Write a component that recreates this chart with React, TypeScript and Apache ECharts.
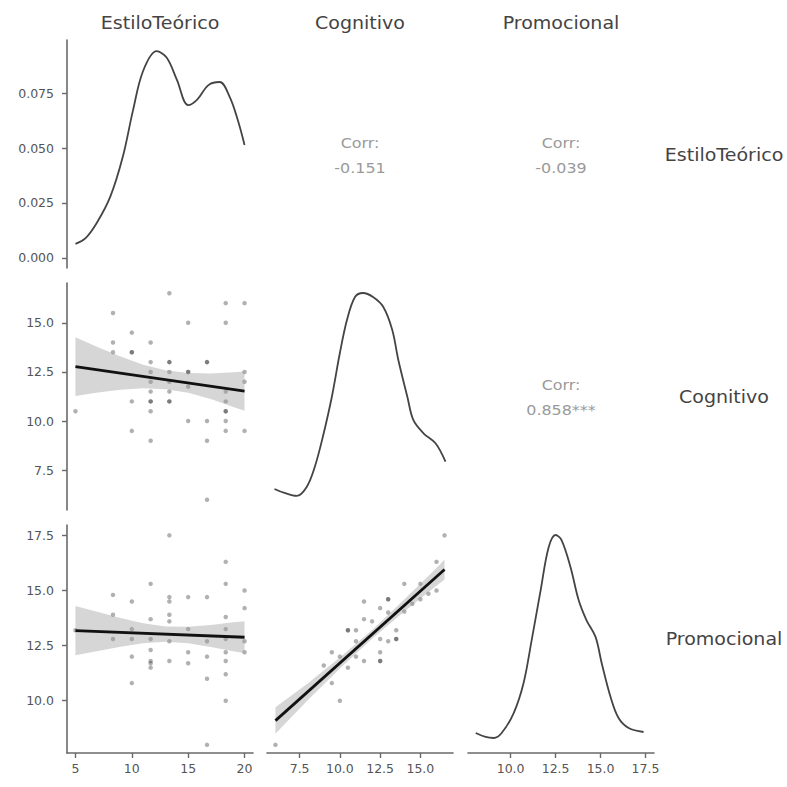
import React, { useEffect, useRef } from "react";
import * as echarts from "echarts";

// ---------- variables / labels ----------
const varNames = ["EstiloTeórico", "Cognitivo", "Promocional"];
const corrHeader = "Corr:";
const corrEstCog = "-0.151";
const corrEstProm = "-0.039";
const corrCogProm = "0.858***";

// ---------- axis ranges & ticks ----------
const estiloRange = [4.25, 20.75];
const cognitivoRange = [5.475, 17.025];
const promocionalRange = [7.63, 17.97];
const densEstiloRange = [-0.00455, 0.0991];
const densCogRange = [-0.0087, 0.1887];
const densPromRange = [-0.0096, 0.2096];

const estiloTicks = [5, 10, 15, 20];
const cognitivoTicks = [7.5, 10, 12.5, 15];
const promocionalTicks = [10, 12.5, 15, 17.5];
const densityTicks = [0, 0.025, 0.05, 0.075];

// ---------- diagonal densities ----------
const estiloDensX = [5, 5.9, 6.9, 8.1, 9.2, 10.1, 11.0, 12.2, 13.1, 14.0, 15.0, 15.8, 16.8, 17.8, 18.7, 19.4, 20.0];
const estiloDensY = [0.0064, 0.009, 0.016, 0.028, 0.046, 0.067, 0.085, 0.094, 0.091, 0.081, 0.0695, 0.072, 0.0786, 0.08, 0.073, 0.0627, 0.0514];

const cogDensX = [5.94, 6.56, 7.31, 7.94, 8.44, 8.94, 9.5, 10.0, 10.44, 10.94, 11.44, 12.06, 12.69, 13.25, 13.63, 14.19, 14.56, 15.19, 15.94, 16.56];
const cogDensY = [0.0096, 0.0061, 0.0035, 0.0113, 0.0287, 0.0548, 0.0896, 0.1278, 0.1565, 0.1765, 0.18, 0.1765, 0.168, 0.148, 0.1217, 0.0898, 0.0696, 0.058, 0.0493, 0.0333];

const promDensX = [8.06, 8.61, 9.06, 9.5, 10.17, 10.72, 11.17, 11.67, 12.11, 12.5, 12.83, 13.33, 13.78, 14.22, 14.72, 15.06, 15.56, 16.0, 16.56, 17.39];
const promDensY = [0.0096, 0.0058, 0.0048, 0.0096, 0.0288, 0.0577, 0.099, 0.147, 0.188, 0.2, 0.195, 0.169, 0.1375, 0.118, 0.102, 0.077, 0.044, 0.024, 0.0144, 0.0106];

// ---------- scatter points ----------
const estiloVsCog = [
  [5, 10.5], [8.33, 15.5], [8.33, 14], [8.33, 13.5], [10, 14.5], [10, 13.5], [10, 13.5], [10, 11], [10, 9.5],
  [11.67, 14], [11.67, 13], [11.67, 12.5], [11.67, 12], [11.67, 11.5], [11.67, 11], [11.67, 11], [11.67, 10.5], [11.67, 9],
  [13.33, 16.5], [13.33, 13], [13.33, 13], [13.33, 12.5], [13.33, 12], [13.33, 11.5], [13.33, 11], [13.33, 11],
  [15, 15], [15, 12.5], [15, 12.5], [15, 11.75], [15, 10],
  [16.67, 13], [16.67, 13], [16.67, 10], [16.67, 9], [16.67, 6],
  [18.33, 16], [18.33, 15], [18.33, 11.5], [18.33, 11], [18.33, 10.5], [18.33, 10.5], [18.33, 10], [18.33, 9.5],
  [20, 16], [20, 12.5], [20, 12], [20, 9.5],
];

const estiloVsProm = [
  [5, 13.2], [8.33, 14.8], [8.33, 13.9], [8.33, 12.8],
  [10, 14.5], [10, 13.25], [10, 12.8], [10, 12.0], [10, 10.8],
  [11.67, 15.3], [11.67, 13.7], [11.67, 12.8], [11.67, 12.3], [11.67, 11.8], [11.67, 11.7], [11.67, 11.5],
  [13.33, 17.5], [13.33, 14.7], [13.33, 14.5], [13.33, 13.9], [13.33, 13.6], [13.33, 12.7], [13.33, 11.8],
  [15, 14.7], [15, 13.25], [15, 12.2], [15, 11.7],
  [16.67, 14.7], [16.67, 12.7], [16.67, 12.0], [16.67, 11.0], [16.67, 8.0],
  [18.33, 16.3], [18.33, 15.3], [18.33, 13.8], [18.33, 13.25], [18.33, 12.8], [18.33, 12.2], [18.33, 11.8], [18.33, 11.2], [18.33, 10.0],
  [20, 15.0], [20, 14.2], [20, 12.7], [20, 12.2],
];

const cogVsProm = [
  [6, 8.0], [16.5, 17.5], [16, 16.3], [16, 15.0], [15.5, 14.85], [15, 15.3], [14, 15.3], [14, 14.05],
  [13.5, 13.2], [13.5, 12.8], [13.5, 12.8], [13, 14.6], [13, 14.6], [13, 14.0], [13, 12.7], [12.5, 14.2], [12.5, 12.8],
  [12.5, 12.2], [12.5, 11.8], [12.5, 11.8], [12, 13.6], [11.5, 14.5], [11.5, 13.7], [11.5, 11.8], [11, 13.2],
  [11, 12.7], [11, 12.0], [10.5, 13.2], [10.5, 13.2], [10.5, 11.5], [10, 12.0], [10, 10.0], [9.5, 12.2],
  [9.5, 10.8], [9, 11.6], [14.5, 14.4], [15, 14.6],
];

// ---------- fitted lines & confidence bands ----------
const fitEstCogX = [5, 20];
const fitEstCogY = [12.77, 11.52];
const bandEstCogX = [5, 7, 9, 11, 13, 15, 17, 19, 20];
const bandEstCogLo = [11.27, 11.45, 11.59, 11.67, 11.62, 11.44, 11.12, 10.72, 10.52];
const bandEstCogHi = [14.27, 13.75, 13.29, 12.87, 12.58, 12.44, 12.42, 12.48, 12.52];

const fitEstPromX = [5, 20];
const fitEstPromY = [13.18, 12.88];
const bandEstPromX = [5, 7, 9, 11, 13, 15, 17, 19, 20];
const bandEstPromLo = [12.06, 12.26, 12.45, 12.61, 12.67, 12.61, 12.44, 12.24, 12.15];
const bandEstPromHi = [14.3, 14.02, 13.75, 13.51, 13.37, 13.35, 13.44, 13.56, 13.61];

const fitCogPromX = [6, 16.5];
const fitCogPromY = [9.1, 15.95];
const bandCogPromX = [6, 8, 10, 12, 14, 16, 16.5];
const bandCogPromLo = [8.5, 10.02, 11.46, 12.81, 14.05, 15.22, 15.5];
const bandCogPromHi = [9.7, 10.78, 11.96, 13.21, 14.59, 16.02, 16.4];

// ---------- layout ----------
const colLeft = [67, 267, 468];
const colWidth = 186;
const rowTop = [40, 283, 525];
const rowHeight = [228, 227, 228];

const FONT = "'DejaVu Sans', 'Liberation Sans', Arial, sans-serif";
const AXIS_COLOR = "#6a6a6a";
const LABEL_COLOR = "#555";

function zip(xs: number[], ys: number[]) {
  return xs.map((x, i) => [x, ys[i]]);
}

function makeAxis(
  gridIndex: number,
  range: number[],
  show: boolean,
  ticks: number[] | null,
  fmt: (v: number) => string,
  isX: boolean
) {
  return {
    type: "value",
    gridIndex,
    min: range[0],
    max: range[1],
    show,
    position: isX ? "bottom" : "left",
    splitLine: { show: false },
    axisLine: { show, onZero: false, lineStyle: { color: AXIS_COLOR, width: 1.6 } },
    axisTick: {
      show: show && !!ticks,
      length: 5,
      customValues: ticks || [],
      lineStyle: { color: AXIS_COLOR, width: 1.4 },
    },
    axisLabel: {
      show: show && !!ticks,
      customValues: ticks || [],
      formatter: (v: number) => fmt(v),
      color: LABEL_COLOR,
      fontSize: 12.5,
      fontFamily: FONT,
      margin: isX ? 9 : 13,
    },
  };
}

function bandSeries(xi: number, yi: number, xs: number[], lo: number[], hi: number[]) {
  return {
    type: "custom",
    xAxisIndex: xi,
    yAxisIndex: yi,
    data: xs.map((x, i) => [x, lo[i], hi[i]]),
    encode: { x: 0, y: [1, 2] },
    silent: true,
    z: 3,
    renderItem: (params: any, api: any) => {
      if (params.dataIndex !== 0) return null;
      const upper = xs.map((x, i) => api.coord([x, hi[i]]));
      const lower = xs.map((x, i) => api.coord([x, lo[i]])).reverse();
      return {
        type: "polygon",
        shape: { points: upper.concat(lower) },
        style: { fill: "rgba(153,153,153,0.4)", stroke: "none" },
      };
    },
  };
}

function scatterSeries(xi: number, yi: number, pts: number[][]) {
  return {
    type: "scatter",
    xAxisIndex: xi,
    yAxisIndex: yi,
    data: pts,
    symbolSize: 4.5,
    itemStyle: { color: "rgba(0,0,0,0.38)" },
    silent: true,
    z: 2,
  };
}

function fitSeries(xi: number, yi: number, xs: number[], ys: number[]) {
  return {
    type: "line",
    xAxisIndex: xi,
    yAxisIndex: yi,
    data: zip(xs, ys),
    symbol: "none",
    lineStyle: { color: "#111", width: 2.8 },
    silent: true,
    z: 4,
  };
}

function densitySeries(xi: number, yi: number, xs: number[], ys: number[]) {
  return {
    type: "line",
    xAxisIndex: xi,
    yAxisIndex: yi,
    data: zip(xs, ys),
    symbol: "none",
    smooth: 0.35,
    lineStyle: { color: "#444", width: 1.8 },
    silent: true,
    z: 4,
  };
}

const f0 = (v: number) => String(Math.round(v));
const f1 = (v: number) => v.toFixed(1);
const f3 = (v: number) => v.toFixed(3);

export default function App() {
  const ref = useRef<HTMLDivElement>(null);

  useEffect(() => {
    if (!ref.current) return;
    const chart = echarts.init(ref.current, undefined, { renderer: "svg" });

    const panels = [
      [0, 0],
      [1, 0],
      [1, 1],
      [2, 0],
      [2, 1],
      [2, 2],
    ];
    const grid = panels.map(([r, c]) => ({
      left: colLeft[c],
      top: rowTop[r],
      width: colWidth,
      height: rowHeight[r],
      containLabel: false,
    }));

    const xAxis = [
      makeAxis(0, estiloRange, false, null, f0, true),
      makeAxis(1, estiloRange, false, null, f0, true),
      makeAxis(2, cognitivoRange, false, null, f1, true),
      makeAxis(3, estiloRange, true, estiloTicks, f0, true),
      makeAxis(4, cognitivoRange, true, cognitivoTicks, f1, true),
      makeAxis(5, promocionalRange, true, promocionalTicks, f1, true),
    ];
    const yAxis = [
      makeAxis(0, densEstiloRange, true, densityTicks, f3, false),
      makeAxis(1, cognitivoRange, true, cognitivoTicks, f1, false),
      makeAxis(2, densCogRange, false, null, f3, false),
      makeAxis(3, promocionalRange, true, promocionalTicks, f1, false),
      makeAxis(4, promocionalRange, false, null, f1, false),
      makeAxis(5, densPromRange, false, null, f3, false),
    ];

    const series: any[] = [
      densitySeries(0, 0, estiloDensX, estiloDensY),
      scatterSeries(1, 1, estiloVsCog),
      bandSeries(1, 1, bandEstCogX, bandEstCogLo, bandEstCogHi),
      fitSeries(1, 1, fitEstCogX, fitEstCogY),
      densitySeries(2, 2, cogDensX, cogDensY),
      scatterSeries(3, 3, estiloVsProm),
      bandSeries(3, 3, bandEstPromX, bandEstPromLo, bandEstPromHi),
      fitSeries(3, 3, fitEstPromX, fitEstPromY),
      scatterSeries(4, 4, cogVsProm),
      bandSeries(4, 4, bandCogPromX, bandCogPromLo, bandCogPromHi),
      fitSeries(4, 4, fitCogPromX, fitCogPromY),
      densitySeries(5, 5, promDensX, promDensY),
    ];

    const txt = (text: string, x: number, y: number, size: number, color: string, sx: number) => ({
      type: "text",
      x,
      y,
      scaleX: sx,
      silent: true,
      style: {
        text,
        fill: color,
        font: `${size}px ${FONT}`,
        fontSize: size,
        fontFamily: FONT,
        textAlign: "center",
        textVerticalAlign: "middle",
        align: "center",
        verticalAlign: "middle",
      },
    });

    const colCenter = colLeft.map((l) => l + colWidth / 2);
    const rowCenter = rowTop.map((t, i) => t + rowHeight[i] / 2);
    const stripColor = "#444";
    const corrColor = "#9a9a9a";
    const SX = 1.12;
    const CX = 1.18;

    const graphic: any[] = [
      ...varNames.map((n, i) => txt(n, colCenter[i], 23, 17, stripColor, SX)),
      ...varNames.map((n, i) => txt(n, 724, rowCenter[i] + (i === 0 ? 1 : 0), 17, stripColor, SX)),
      txt(corrHeader, colCenter[1], 143, 13.5, corrColor, CX),
      txt(corrEstCog, colCenter[1], 168, 13.5, corrColor, CX),
      txt(corrHeader, colCenter[2], 143, 13.5, corrColor, CX),
      txt(corrEstProm, colCenter[2], 168, 13.5, corrColor, CX),
      txt(corrHeader, colCenter[2], 385, 13.5, corrColor, CX),
      txt(corrCogProm, colCenter[2], 410, 13.5, corrColor, CX),
    ];

    chart.setOption({
      animation: false,
      backgroundColor: "#ffffff",
      grid,
      xAxis,
      yAxis,
      series,
      graphic,
    });

    return () => chart.dispose();
  }, []);

  return (
    <div
      ref={ref}
      style={{ position: "absolute", left: 0, top: 0, width: 787, height: 787 }}
    />
  );
}
